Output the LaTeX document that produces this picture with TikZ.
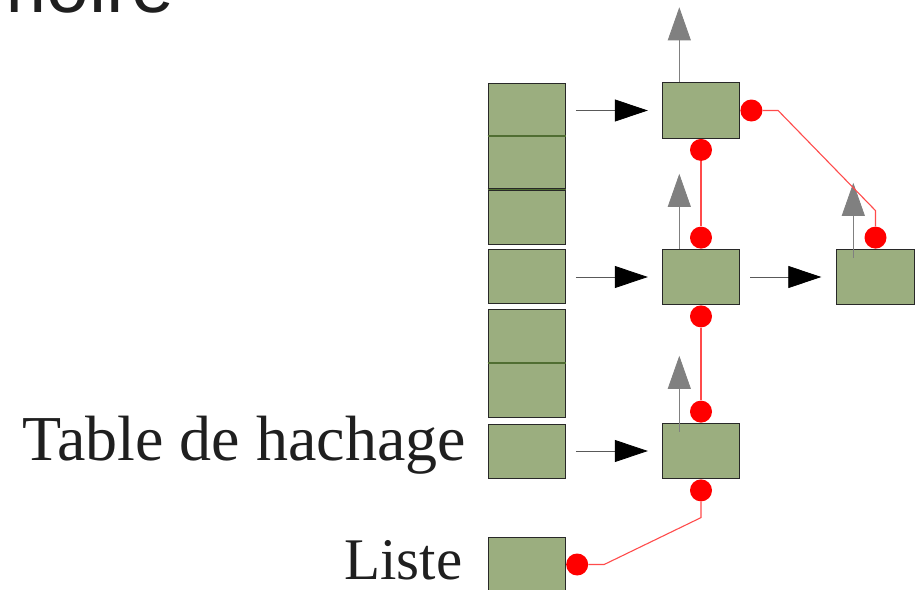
\documentclass[tikz,border=0pt]{standalone}
\usepackage{fontspec}
\setmainfont{Liberation Serif}
\newfontfamily\memfont{Liberation Sans}
\usetikzlibrary{arrows.meta}
\definecolor{cellgreen}{RGB}{155,174,127}
\definecolor{seamgreen}{RGB}{80,110,50}
\definecolor{cellline}{RGB}{40,40,40}
\definecolor{linkred}{RGB}{255,75,75}

\begin{document}
\begin{tikzpicture}[scale=1.000000,x=1pt,y=-1pt,
  cell/.style={draw=cellline,fill=cellgreen,line width=0.9pt,inner sep=0pt,
    minimum width=77.5pt,minimum height=54pt},
  elem/.style={cell,minimum height=55.5pt},
  seam/.style={draw=cellline,line width=0.6pt,double=seamgreen,double distance=1.3pt},
  dot/.style={circle,fill=red,inner sep=0pt,minimum size=22pt},
  link/.style={draw=linkred,line width=1.1pt},
  ptr/.style={draw=black!65,line width=0.8pt,-{Triangle[length=33pt,width=22pt,color=black]}},
  upptr/.style={draw=black!50,line width=0.8pt,-{Triangle[length=33pt,width=23pt,color=black!50]}},
  label/.style={inner sep=0pt,text=black!88}]
\useasboundingbox (0.000000,0.000000) rectangle (920.000000,589.000000);
\clip (0.000000,0.000000) rectangle (920.000000,589.000000);
% Drawing table cells
\node[cell] (t1) at (526.750000,110.000000) {};
\node[cell] (t2) at (526.750000,163.500000) {};
\node[cell] (t3) at (526.750000,217.000000) {};
\node[cell] (t4) at (526.750000,276.500000) {};
\node[cell] (t5) at (526.750000,336.000000) {};
\node[cell] (t6) at (526.750000,390.500000) {};
\node[cell] (t7) at (526.750000,451.000000) {};
\node[cell] (liste) at (526.750000,564.500000) {};
\draw[seam] (t2.north west) -- (t2.north east);
\draw[seam] (t3.north west) -- (t3.north east);
\draw[seam] (t6.north west) -- (t6.north east);
% Done with cells; drawing chained elements
\node[elem] (n1) at (701.000000,110.500000) {};
\node[elem] (n2) at (701.000000,277.000000) {};
\node[elem] (n3) at (701.000000,451.000000) {};
\node[elem] (n4) at (875.500000,277.000000) {};
% Bucket pointers
\draw[ptr] ([xshift=10pt]t1.east |- n1.west) -- ([xshift=-14pt]n1.west);
\draw[ptr] ([xshift=10pt]t4.east |- n2.west) -- ([xshift=-14pt]n2.west);
\draw[ptr] ([xshift=10pt]t7.east |- n3.west) -- ([xshift=-14pt]n3.west);
\draw[ptr] ([xshift=10pt]n2.east) -- ([xshift=-15pt]n4.west);
% Upward pointers
\draw[upptr] ([xshift=-21.7pt]n1.north) -- ++(0,-75);
\draw[upptr] ([xshift=-21.7pt]n2.north) -- ++(0,-75);
\draw[upptr] ([xshift=-21.7pt,yshift=-9pt]n3.north) -- ++(0,-76);
\draw[upptr] ([xshift=-22.2pt,yshift=-9pt]n4.north) -- ++(0,-75);
% Done with pointers; drawing list links
\node[dot,anchor=west] (d1) at (n1.east) {};
\node[dot,anchor=north] (d2) at (n1.south) {};
\node[dot,anchor=south] (d3) at (n2.north) {};
\node[dot,anchor=north] (d4) at (n2.south) {};
\node[dot,anchor=south] (d5) at (n3.north) {};
\node[dot,anchor=north] (d6) at (n3.south) {};
\node[dot,anchor=south] (d7) at (n4.north) {};
\node[dot,anchor=west] (d8) at (liste.east) {};
\draw[link] (d1.east) -- ++(15.5,0) -- ([yshift=27pt]d7.center) -- (d7.north);
\draw[link] (d2.south) -- (d3.north);
\draw[link] (d4.south) -- (d5.north);
\draw[link] (d6.south) -- ++(0,16) -- ([xshift=27pt]d8.center) -- (d8.east);
% Done with links; drawing labels
\node[label,anchor=base east,font=\fontsize{64}{70}\selectfont] (lbltable) at (466.000000,460.000000) {Table de hachage};
\node[label,anchor=base east,font=\fontsize{59}{66}\selectfont] (lblliste) at (462.500000,579.300000) {Liste};
\node[label,anchor=base east,font=\memfont\fontsize{77}{84}\selectfont] (lblmem) at (175.000000,12.500000) {Mémoire};
\end{tikzpicture}
\end{document}
